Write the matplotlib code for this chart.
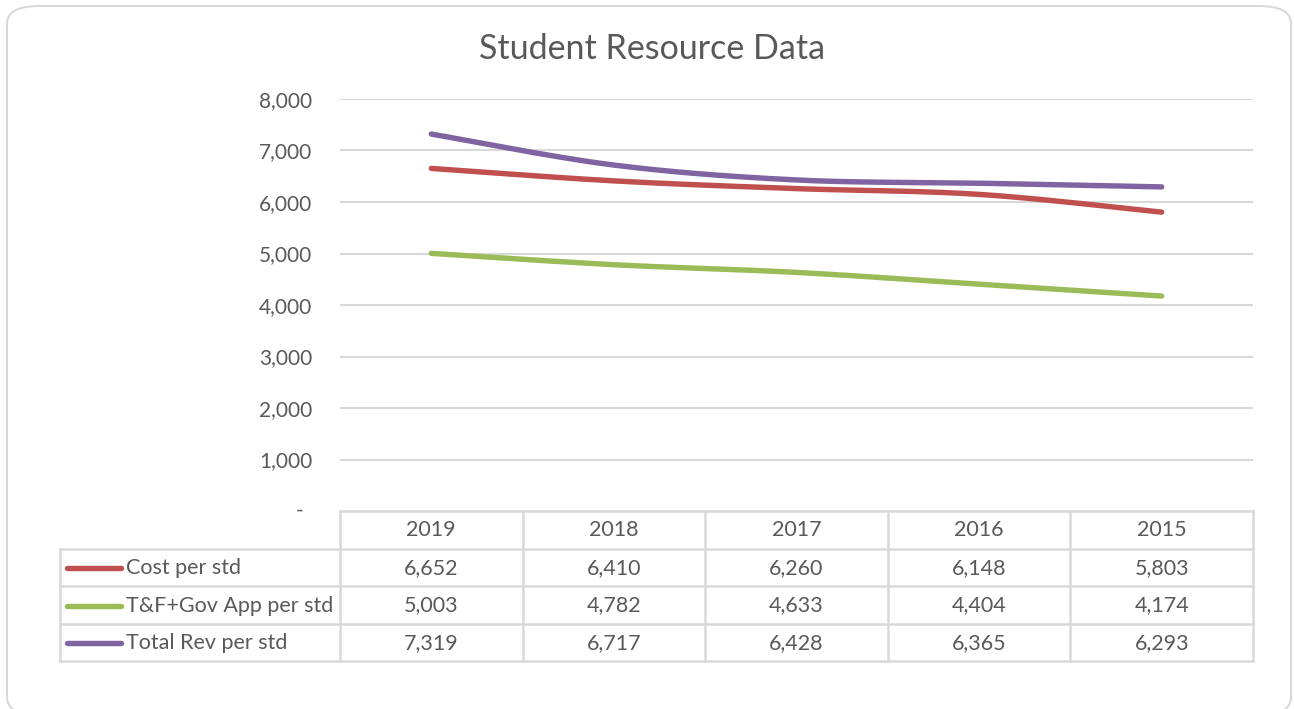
import matplotlib.pyplot as plt
import matplotlib.transforms as mtransforms
from matplotlib.patches import FancyBboxPatch
from matplotlib.ticker import FuncFormatter
import numpy as np

plt.rcParams['font.family'] = ['Lato', 'DejaVu Sans']

years = ['2019', '2018', '2017', '2016', '2015']
series_names = ['Cost per std', 'T&F+Gov App per std', 'Total Rev per std']
cost = [6652, 6410, 6260, 6148, 5803]
tf_gov = [5003, 4782, 4633, 4404, 4174]
total_rev = [7319, 6717, 6428, 6365, 6293]
colors = ['#C0504D', '#9BBB59', '#8064A2']

txt = '#595959'
grid = '#D9D9D9'


def smooth(xs, ys, n=40):
    '''Excel style smoothed line (Catmull-Rom through the points).'''
    xs = np.asarray(xs, float)
    ys = np.asarray(ys, float)
    px = np.concatenate([[xs[0]], xs, [xs[-1]]])
    py = np.concatenate([[ys[0]], ys, [ys[-1]]])
    outx, outy = [], []
    t = np.linspace(0, 1, n)
    for i in range(1, len(px) - 2):
        mx0 = (px[i + 1] - px[i - 1]) / 2
        mx1 = (px[i + 2] - px[i]) / 2
        my0 = (py[i + 1] - py[i - 1]) / 2
        my1 = (py[i + 2] - py[i]) / 2
        h00 = 2 * t**3 - 3 * t**2 + 1
        h10 = t**3 - 2 * t**2 + t
        h01 = -2 * t**3 + 3 * t**2
        h11 = t**3 - t**2
        outx.extend(h00 * px[i] + h10 * mx0 + h01 * px[i + 1] + h11 * mx1)
        outy.extend(h00 * py[i] + h10 * my0 + h01 * py[i + 1] + h11 * my1)
    return outx, outy


W, H = 1294, 709
fig = plt.figure(figsize=(W / 100, H / 100), dpi=100)

# chart border
fig.patches.append(FancyBboxPatch((7 / W, -6 / H), 1284 / W, 709 / H,
                                  boxstyle='round,pad=0,rounding_size=0.025',
                                  transform=fig.transFigure, fc='white',
                                  ec=grid, lw=1.5, zorder=-5))

ax = fig.add_axes([340 / W, 1 - 511 / H, 913 / W, 412 / H])
ax.set_facecolor('none')
x = np.arange(len(years))
for vals, c in zip([cost, tf_gov, total_rev], colors):
    sx, sy = smooth(x, vals)
    ax.plot(sx, sy, color=c, lw=3.9, solid_capstyle='round', zorder=3)

ax.set_xlim(-0.5, len(years) - 0.5)
ax.set_ylim(0, 8000)
ax.set_yticks(np.arange(1000, 8001, 1000))
ax.yaxis.set_major_formatter(FuncFormatter(lambda v, p: f'{v:,.0f}'))
ax.tick_params(axis='y', length=0, pad=20, labelsize=15, labelcolor=txt)
ax.set_xticks([])
ax.grid(axis='y', color=grid, lw=1.5)
for s in ax.spines.values():
    s.set_visible(False)

trans = mtransforms.blended_transform_factory(ax.transData, ax.transAxes)
ax.text(-0.5, 0, '-', transform=trans + mtransforms.ScaledTranslation(-40 / 100, 0, fig.dpi_scale_trans),
        ha='center', va='center', fontsize=15, color=txt)

# data table under the plot
row_h = 37.5 / 412
left = -0.5 - 280 / 182.6
right = len(years) - 0.5
tbl = dict(color=grid, lw=1.8, transform=trans, clip_on=False)
ax.plot([-0.5, right], [0, 0], **tbl)
for r in range(1, 5):
    ax.plot([left, right], [-r * row_h, -r * row_h], **tbl)
ax.plot([left, left], [-row_h, -4 * row_h], **tbl)
for i in range(len(years) + 1):
    ax.plot([i - 0.5, i - 0.5], [0, -4 * row_h], **tbl)

for i, yr in enumerate(years):
    ax.text(i, -0.52 * row_h, yr, transform=trans, ha='center', va='center',
            fontsize=15.5, color=txt)

key_x0 = left + 7 / 182.6
key_x1 = left + 61 / 182.6
for r, (name, vals, c) in enumerate(zip(series_names, [cost, tf_gov, total_rev], colors)):
    yy = -(r + 1.52) * row_h
    ax.plot([key_x0, key_x1], [yy, yy], color=c, lw=3.9, solid_capstyle='round',
            transform=trans, clip_on=False)
    ax.text(left + 66 / 182.6, yy, name, transform=trans, ha='left', va='center',
            fontsize=15.5, color=txt)
    for i, v in enumerate(vals):
        ax.text(i, yy, f'{v:,}', transform=trans, ha='center', va='center',
                fontsize=15.5, color=txt)

fig.text(652 / W, 1 - 49 / H, 'Student Resource Data', ha='center', va='center',
         fontsize=24.5, color=txt)

fig.savefig('out.png', dpi=100)
